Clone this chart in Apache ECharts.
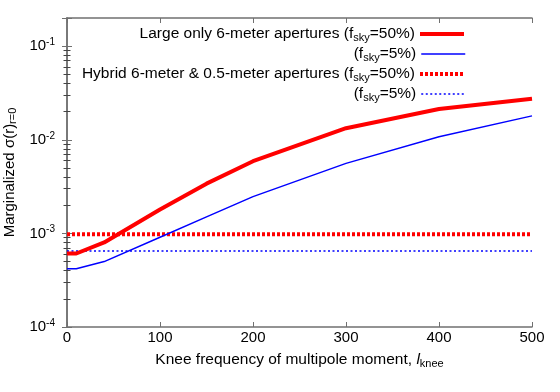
<!DOCTYPE html>
<html>
<head>
<meta charset="utf-8">
<script src="https://cdn.jsdelivr.net/npm/echarts@6/dist/echarts.min.js"></script>
<style>html,body{margin:0;padding:0;background:#fff;}#c{width:560px;height:392px;}</style>
</head>
<body>
<div id="c"></div>
<script>
// ---- data ----
var lKnee = [0, 10, 40, 100, 150, 200, 300, 400, 500];
var largeF50 = [6.1e-4, 6.1e-4, 8.0e-4, 1.8e-3, 3.4e-3, 5.9e-3, 1.33e-2, 2.13e-2, 2.75e-2];
var largeF5  = [4.2e-4, 4.2e-4, 5.0e-4, 9.1e-4, 1.5e-3, 2.47e-3, 5.6e-3, 1.08e-2, 1.8e-2];
var hybridX = [0, 500];
var hybridF50 = [9.8e-4, 9.8e-4];
var hybridF5 = [6.5e-4, 6.5e-4];
var xTicks = [0, 100, 200, 300, 400, 500];
var yDecades = [1e-4, 1e-3, 1e-2, 1e-1];
var legendNames = ['Large only 6-meter apertures (fsky=50%)', 'Large (fsky=5%)',
                   'Hybrid 6-meter & 0.5-meter apertures (fsky=50%)', 'Hybrid (fsky=5%)'];
var legendLabels = ['Large only 6-meter apertures (f{sub|sky}=50%)', '(f{sub|sky}=5%)',
                    'Hybrid 6-meter & 0.5-meter apertures (f{sub|sky}=50%)', '(f{sub|sky}=5%)'];
var legendLineWidths = [4, 1.5, 4, 1.5];

function zip(xs, ys){ return xs.map(function(x,i){ return [x, ys[i]]; }); }

var FONT = 'Liberation Sans';
var axisCol = '#707070';
function makeRich(base){
  return {
    n: {fontSize: base, fontFamily: FONT, color: '#000'},
    sub: {fontSize: Math.round(base*0.72), fontFamily: FONT, color: '#000', padding: [7,0,0,0]},
    sup: {fontSize: Math.round(base*0.68), fontFamily: FONT, color: '#000', padding: [0,0,8,0]},
    it: {fontSize: base, fontFamily: FONT, fontStyle: 'italic', color: '#000'}
  };
}

function expLabel(v){
  for (var i = 0; i < yDecades.length; i++) {
    if (Math.abs(v / yDecades[i] - 1) < 1e-6) return '10{sup|' + Math.round(Math.log10(v)) + '}';
  }
  return '';
}

var legendRowsTop = [26, 46, 66, 86];
var legends = legendNames.map(function(n, i){
  return {
    data: [n], orient: 'vertical', align: 'right', right: 94, top: legendRowsTop[i],
    itemWidth: 44, itemHeight: 14, padding: 0, selectedMode: false,
    itemStyle: {opacity: 0},
    lineStyle: {width: legendLineWidths[i]},
    formatter: function(name){ return legendLabels[legendNames.indexOf(name)]; },
    textStyle: {fontFamily: FONT, fontSize: 15.5, color: '#000', rich: makeRich(15.5)}
  };
});

var baseX = {
  type: 'value', min: 0, max: 500, interval: 100,
  axisLine: {show: true, lineStyle: {color: axisCol, width: 1.5}},
  axisTick: {show: true, inside: true, length: 5, lineStyle: {color: axisCol, width: 1}},
  splitLine: {show: false}
};
var baseY = {
  type: 'log', logBase: 10, min: 1e-4, max: 0.2,
  axisLine: {show: true, lineStyle: {color: axisCol, width: 1.5}},
  axisTick: {show: true, inside: true, length: 5, lineStyle: {color: axisCol, width: 1}},
  minorTick: {show: true, splitNumber: 9, length: 3.5, lineStyle: {color: '#444', width: 1}},
  splitLine: {show: false}, minorSplitLine: {show: false}
};

var option = {
  animation: false,
  backgroundColor: '#fff',
  grid: {left: 67, right: 28, top: 18, bottom: 65, outerBoundsMode: 'none', containLabel: false},
  legend: legends,
  xAxis: [
    Object.assign({}, baseX, {
      position: 'bottom',
      axisLabel: {fontFamily: FONT, fontSize: 15, color: '#000', margin: 3,
                  formatter: function(v){ return xTicks.indexOf(v) >= 0 ? String(v) : ''; }},
      name: '{n|Knee frequency of multipole moment, }{it|l}{sub|knee}',
      nameLocation: 'middle', nameGap: 24,
      nameTextStyle: {fontFamily: FONT, fontSize: 15.5, color: '#000', rich: makeRich(15.5)}
    }),
    Object.assign({}, baseX, {position: 'top', axisLabel: {show: false}})
  ],
  yAxis: [
    Object.assign({}, baseY, {
      position: 'left',
      axisLabel: {fontFamily: FONT, fontSize: 15, color: '#000', margin: 12,
                  formatter: expLabel, rich: makeRich(15)},
      name: '{n|Marginalized σ(r)}{sub|r=0}',
      nameLocation: 'middle', nameGap: 46,
      nameTextStyle: {fontFamily: FONT, fontSize: 15, color: '#000', rich: makeRich(15)}
    }),
    Object.assign({}, baseY, {position: 'right', axisLabel: {show: false}})
  ],
  series: [
    {name: legendNames[0], type: 'line', data: zip(lKnee, largeF50), symbol: 'none',
     lineStyle: {color: '#ff0000', width: 4}, itemStyle: {color: '#ff0000'}, z: 4},
    {name: legendNames[1], type: 'line', data: zip(lKnee, largeF5), symbol: 'none',
     lineStyle: {color: '#0000ff', width: 1.5}, itemStyle: {color: '#0000ff'}, z: 3},
    {name: legendNames[2], type: 'line', data: zip(hybridX, hybridF50), symbol: 'none',
     lineStyle: {color: '#ff0000', width: 4, type: [3, 2]}, itemStyle: {color: '#ff0000'}, z: 2},
    {name: legendNames[3], type: 'line', data: zip(hybridX, hybridF5), symbol: 'none',
     lineStyle: {color: '#0000ff', width: 1.5, type: [2, 2.5]}, itemStyle: {color: '#0000ff'}, z: 2}
  ]
};
var chart = echarts.init(document.getElementById('c'), null, {renderer: 'canvas'});
chart.setOption(option);
</script>
</body>
</html>
